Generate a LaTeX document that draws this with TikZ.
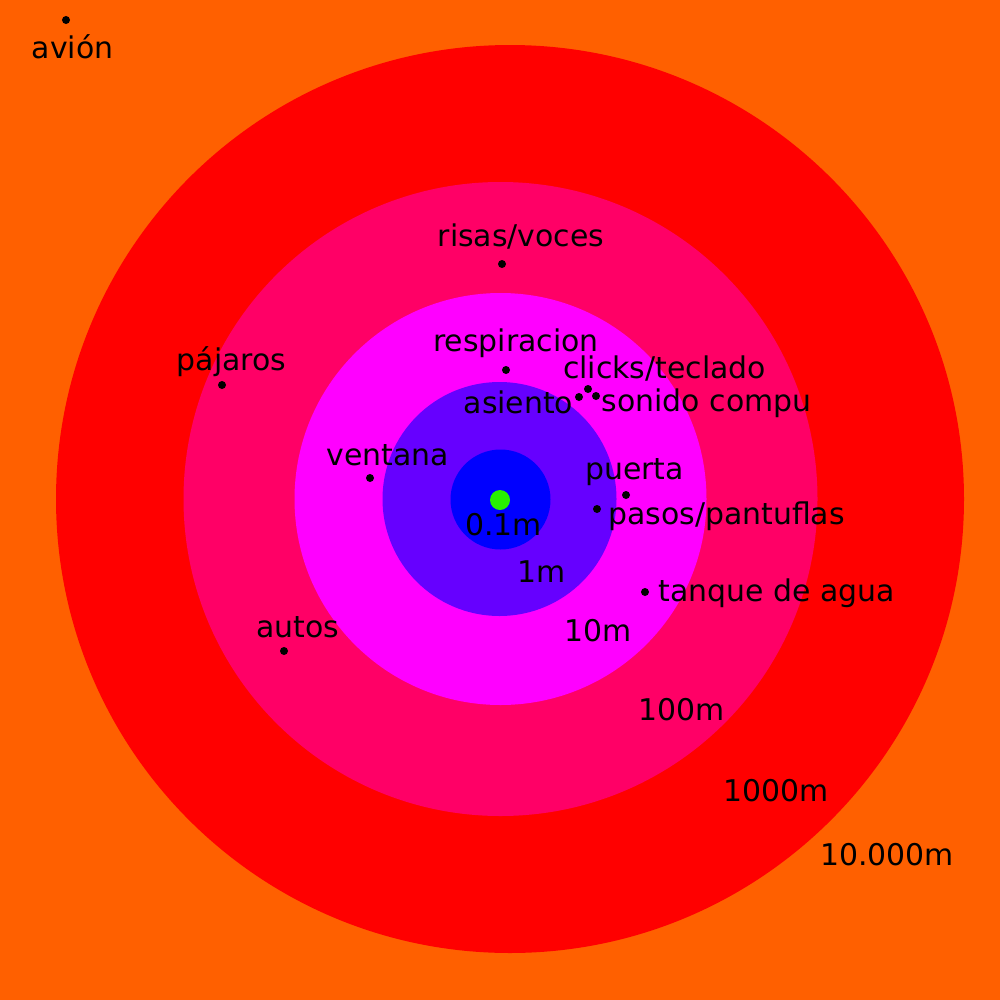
\documentclass[tikz,border=0pt]{standalone}
\usepackage{fontspec}
\setmainfont{DejaVu Sans}
\definecolor{bgorange}{RGB}{255,96,0}
\definecolor{ringred}{RGB}{255,0,0}
\definecolor{ringpink}{RGB}{255,0,102}
\definecolor{ringmag}{RGB}{255,0,255}
\definecolor{ringviolet}{RGB}{102,0,255}
\definecolor{ringblue}{RGB}{0,0,255}
\definecolor{centergreen}{RGB}{40,240,0}
\begin{document}
\begin{tikzpicture}[x=0.01cm,y=-0.01cm,
  lbl/.style={inner sep=0pt,font=\fontsize{8.5}{10}\selectfont},
  src/.style={circle,fill=black,inner sep=0pt,minimum size=0.08cm}]
\useasboundingbox (0,0) rectangle (1000,1000);
\fill[bgorange] (0,0) rectangle (1000,1000);
\fill[ringred] (510,499) circle (454);
\fill[ringpink] (500.5,499) circle (317);
\fill[ringmag] (500.5,499) circle (206);
\fill[ringviolet] (499.5,499) circle (117);
\fill[ringblue] (500.5,499.5) circle (50);
\node[circle,fill=centergreen,inner sep=0pt,minimum size=0.2cm] (c) at (500,500) {};
% sources
\node[src] (d1) at (66,20) {};
\node[lbl] (l1) at (72.5,47) {avión};
\node[src] (d2) at (502,264) {};
\node[lbl] (l2) at (521,237) {risas/voces};
\node[src] (d3) at (506,370) {};
\node[lbl] (l3) at (516,343) {respiracion};
\node[src] (d4) at (222,385) {};
\node[lbl] (l4) at (231.5,362) {pájaros};
\node[src] (d5) at (588,389) {};
\node[lbl] (l5) at (664.5,369) {clicks/teclado};
\node[src] (d6) at (579,397) {};
\node[lbl] (l6) at (518.5,402) {asiento};
\node[src] (d7) at (596,396) {};
\node[lbl] (l7) at (706.5,403) {sonido compu};
\node[src] (d8) at (370,478) {};
\node[lbl] (l8) at (388,455) {ventana};
\node[src] (d9) at (626,495) {};
\node[lbl] (l9) at (634.5,472) {puerta};
\node[src] (d10) at (597,509) {};
\node[lbl] (l10) at (726.5,516) {pasos/pantuflas};
\node[src] (d11) at (645,592) {};
\node[lbl] (l11) at (777,593) {tanque de agua};
\node[src] (d12) at (284,651) {};
\node[lbl] (l12) at (297.5,627) {autos};
% distance labels
\node[lbl] (r1) at (503.5,525) {0.1m};
\node[lbl] (r2) at (541.5,572) {1m};
\node[lbl] (r3) at (598,631) {10m};
\node[lbl] (r4) at (682,710) {100m};
\node[lbl] (r5) at (776,791) {1000m};
\node[lbl] (r6) at (887,855) {10.000m};
\end{tikzpicture}
\end{document}
